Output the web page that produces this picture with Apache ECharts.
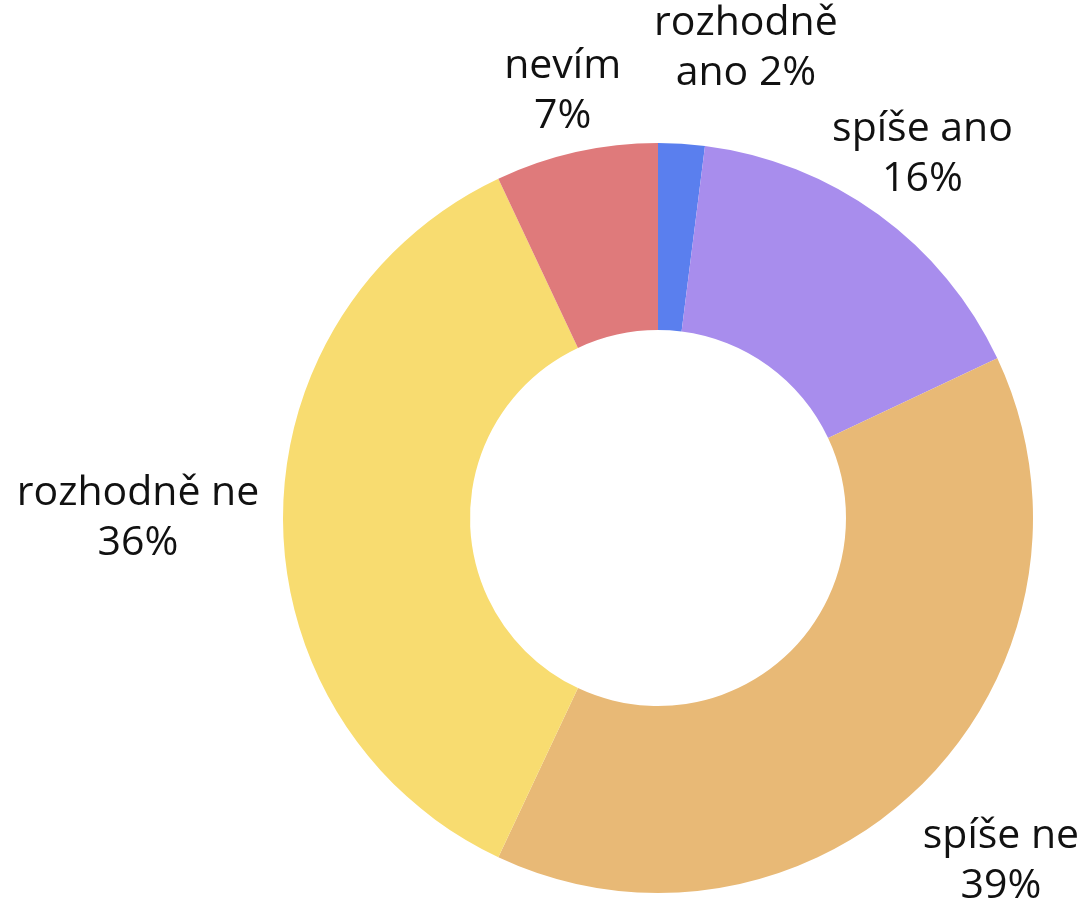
<!DOCTYPE html>
<html>
<head>
<meta charset="utf-8">
<script src="https://cdn.jsdelivr.net/npm/echarts@6/dist/echarts.min.js"></script>
<style>
  html, body { margin: 0; padding: 0; background: #fff; }
  #chart { width: 1084px; height: 908px; }
</style>
</head>
<body>
<div id="chart"></div>
<script>
// kategorie a hodnoty (%)
const categories = ['rozhodně ano', 'spíše ano', 'spíše ne', 'rozhodně ne', 'nevím'];
const labelTexts = ['rozhodně\nano 2%', 'spíše ano\n16%', 'spíše ne\n39%', 'rozhodně ne\n36%', 'nevím\n7%'];
const values = [2, 16, 39, 36, 7];
const colors = ['#5a7fee', '#a88ded', '#e8b976', '#f8dc70', '#df7a7b'];

// umístění popisků: vzdálenost od středu a posun úhlu (stupně)
const labelRadius = [478, 450, 485, 520, 437];
const labelTurn = [7, 0, 0, 0, 0];

const cx = 658, cy = 518;

const chart = echarts.init(document.getElementById('chart'));

const option = {
  animation: false,
  series: [
    {
      type: 'pie',
      center: [cx, cy],
      radius: [188, 375],
      startAngle: 90,
      clockwise: true,
      data: categories.map((name, i) => ({
        name: name,
        value: values[i],
        itemStyle: { color: colors[i] },
        label: { formatter: labelTexts[i] }
      })),
      label: {
        show: true,
        position: 'outside',
        color: '#111',
        fontSize: 41,
        lineHeight: 50,
        overflow: 'none',
        edgeDistance: 0,
        fontFamily: '"Open Sans", "Noto Sans", sans-serif'
      },
      labelLine: { show: false, length: 20, length2: 0 },
      labelLayout: function (params) {
        const p0 = params.labelLinePoints[0];
        let a = Math.atan2(p0[1] - cy, p0[0] - cx) + labelTurn[params.dataIndex] * Math.PI / 180;
        const r = labelRadius[params.dataIndex];
        return {
          x: cx + r * Math.cos(a),
          y: cy + r * Math.sin(a),
          align: 'center',
          verticalAlign: 'middle'
        };
      }
    }
  ]
};

chart.setOption(option);
</script>
</body>
</html>
